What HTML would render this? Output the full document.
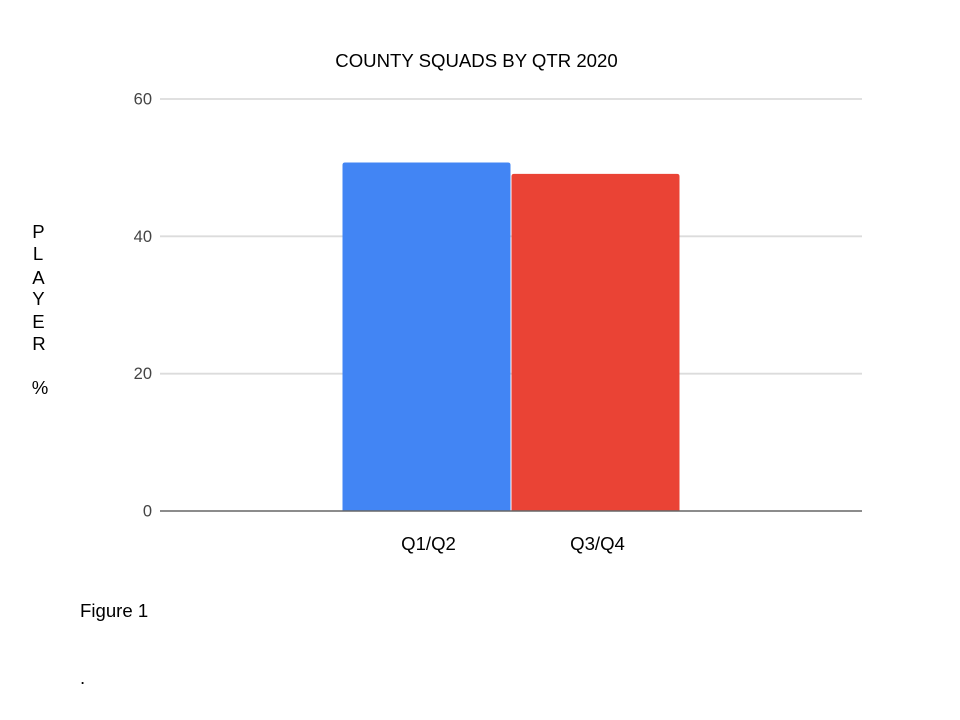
<!DOCTYPE html>
<html lang="en">
<head>
<meta charset="utf-8">
<title>County Squads by Qtr 2020</title>
<style>
  html, body { margin: 0; padding: 0; background: #fff; }
  body { width: 960px; height: 720px; overflow: hidden; position: relative; }
  svg { position: absolute; left: 0; top: 0; filter: blur(0.3px); }
  text { font-family: "Liberation Sans", Arial, sans-serif; }
</style>
</head>
<body>
<svg id="chart" width="960" height="720" viewBox="0 0 960 720" xmlns="http://www.w3.org/2000/svg">
  <text x="476.5" y="67" font-size="18.6" fill="#000" text-anchor="middle">COUNTY SQUADS BY QTR 2020</text>
  <g id="grid"></g>
  <g id="yticks"></g>
  <g id="bars"></g>
  <g id="xticks"></g>
  <line id="baseline" x1="160" x2="862" stroke="#666" stroke-width="1.6"></line>
  <g fill="#000" font-size="18.6" text-anchor="middle">
    <text x="38.5" y="238">P</text>
    <text x="38" y="260">L</text>
    <text x="38.5" y="284">A</text>
    <text x="38.5" y="305">Y</text>
    <text x="38.5" y="328">E</text>
    <text x="39" y="350">R</text>
    <text x="40" y="394">%</text>
  </g>
  <text x="80" y="617" font-size="18.6" fill="#000">Figure 1</text>
  <text x="80" y="684" font-size="18.6" fill="#000">.</text>
</svg>
<script>
const categories = ["Q1/Q2", "Q3/Q4"];
const playerPercent = [50.75, 49.1];
const barColors = ["#4285f4", "#ea4335"];
const yTickValues = [0, 20, 40, 60];

const SVG_NS = "http://www.w3.org/2000/svg";
const plotLeft = 160, plotRight = 862, plotBottom = 511, plotTop = 99, yMax = 60;
const groupLeft = 342.5, bandWidth = 169, barWidth = 168;

function yScale(v) { return plotBottom - (v / yMax) * (plotBottom - plotTop); }
function xBandStart(i) { return groupLeft + i * bandWidth; }

const gridGroup = document.getElementById("grid");
const yTickGroup = document.getElementById("yticks");
const barGroup = document.getElementById("bars");
const xTickGroup = document.getElementById("xticks");

yTickValues.forEach(function (tick) {
  if (tick !== 0) {
    const line = document.createElementNS(SVG_NS, "line");
    
    
    line.setAttribute("x1", plotLeft);
    line.setAttribute("x2", plotRight);
    line.setAttribute("y1", yScale(tick));
    line.setAttribute("y2", yScale(tick));
    line.setAttribute("stroke", "#dcdcdc");
    line.setAttribute("stroke-width", "1.8");
    gridGroup.appendChild(line);
  }
  const label = document.createElementNS(SVG_NS, "text");
  
  
  label.setAttribute("x", 152);
  label.setAttribute("y", yScale(tick) + 5.5);
  label.setAttribute("text-anchor", "end");
  label.setAttribute("font-size", "16.5");
  label.setAttribute("fill", "#444");
  label.textContent = tick;
  yTickGroup.appendChild(label);
});

categories.forEach(function (cat, i) {
  const bar = document.createElementNS(SVG_NS, "path");
  
  
  const x = xBandStart(i), top = yScale(playerPercent[i]), r = 2.5;
  bar.setAttribute("d",
    "M" + x + " " + plotBottom +
    "V" + (top + r) +
    "Q" + x + " " + top + " " + (x + r) + " " + top +
    "H" + (x + barWidth - r) +
    "Q" + (x + barWidth) + " " + top + " " + (x + barWidth) + " " + (top + r) +
    "V" + plotBottom + "Z");
  bar.setAttribute("fill", barColors[i]);
  barGroup.appendChild(bar);

  const label = document.createElementNS(SVG_NS, "text");
  
  
  label.setAttribute("x", x + barWidth / 2 + 2);
  label.setAttribute("y", 550);
  label.setAttribute("text-anchor", "middle");
  label.setAttribute("font-size", "18.6");
  label.setAttribute("fill", "#000");
  label.textContent = cat;
  xTickGroup.appendChild(label);
});

const baseline = document.getElementById("baseline");
baseline.setAttribute("y1", yScale(0));
baseline.setAttribute("y2", yScale(0));
</script>
</body>
</html>
